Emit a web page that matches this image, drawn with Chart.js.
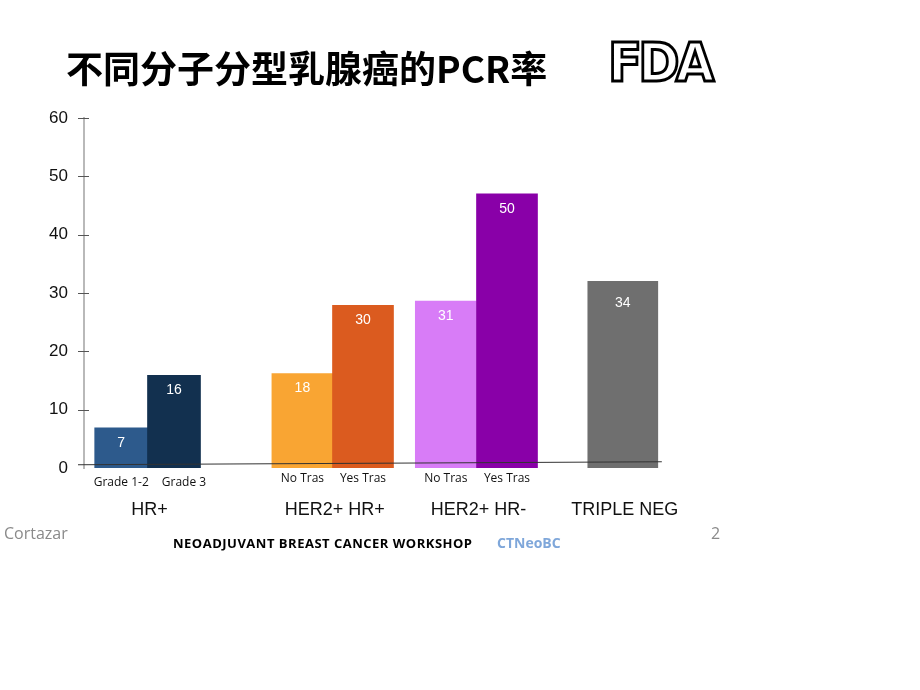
<!DOCTYPE html>
<html>
<head>
<meta charset="utf-8">
<script src="https://cdn.jsdelivr.net/npm/chart.js@4/dist/chart.umd.min.js"></script>
<style>
  body { margin: 0; background: #fff; }
  #slide { position: relative; width: 920px; height: 690px; overflow: hidden; }
  #chartBox { position: absolute; left: 0; top: 0; width: 920px; height: 690px; }
  .txt { position: absolute; white-space: nowrap; }
  #title { left: 66px; top: 40px; font: bold 37px "Noto Sans CJK SC", sans-serif; color: #000; }
  #fda { left: 608px; top: 32px; font: bold 53px "DejaVu Sans", sans-serif; color: #fff; -webkit-text-stroke: 3px #000; letter-spacing: -4px; transform: scaleX(0.94); transform-origin: left top; }
  #author { left: 4px; top: 522px; font: 16px "Open Sans", sans-serif; color: #8a8a8a; }
  #page { left: 711px; top: 522px; font: 16px "Open Sans", sans-serif; color: #8a8a8a; }
  #workshop { left: 173px; top: 534px; font: bold 13px "Open Sans", sans-serif; letter-spacing: 0.5px; color: #000; }
  #ctneo { left: 497px; top: 533px; font: bold 14px "Open Sans", sans-serif; color: #7fa7da; }
</style>
</head>
<body>
<div id="slide">
  <div id="chartBox"><canvas id="pcrChart"></canvas></div>
  <div class="txt" id="title">不同分子分型乳腺癌的PCR率</div>
  <div class="txt" id="fda">FDA</div>
  <div class="txt" id="author">Cortazar</div>
  <div class="txt" id="page">2</div>
  <div class="txt" id="workshop">NEOADJUVANT BREAST CANCER WORKSHOP</div>
  <div class="txt" id="ctneo">CTNeoBC</div>
</div>
<script>
// data dari grafik
const groupNames = ['HR+', 'HER2+ HR+', 'HER2+ HR-', 'TRIPLE NEG'];
const barLabels = ['Grade 1-2', 'Grade 3', 'No Tras', 'Yes Tras', 'No Tras', 'Yes Tras', ''];
const barGroup = [0, 0, 1, 1, 2, 2, 3];
const barValues = [6.9, 15.9, 16.2, 27.9, 28.6, 47, 32];
const valueLabels = ['7', '16', '18', '30', '31', '50', '34'];
const yTicks = [0, 10, 20, 30, 40, 50, 60];

// tata letak (posisi batang di sumbu x, lebar batang per grup, warna)
const barSlot = [0.62, 1.5, 3.64, 4.65, 6.03, 7.05, 8.98];
const groupThickness = [53, 61, 61, 70];
const barColors = ['#2d5a8c', '#12304f', '#f9a533', '#db5b1f', '#d87cf7', '#8900a8', '#6f6f6f'];

const datasets = groupNames.map(function(name, g) {
    const idx = barGroup.map((gg, i) => gg === g ? i : -1).filter(i => i >= 0);
    return {
        label: name,
        data: idx.map(i => ({ x: barSlot[i], y: barValues[i] })),
        backgroundColor: idx.map(i => barColors[i]),
        borderWidth: 0,
        barThickness: groupThickness[g],
        grouped: false,
        barIdx: idx
    };
});

const decor = {
    id: 'decor',
    beforeDatasetsDraw(chart) {
        const c = chart.ctx, y = chart.scales.y, a = chart.chartArea;
        c.save();
        c.strokeStyle = '#8a8a8a';
        c.lineWidth = 1.2;
        c.beginPath();
        c.moveTo(a.left, a.top - 1);
        c.lineTo(a.left, a.bottom + 1);
        c.stroke();
        c.strokeStyle = '#555';
        c.lineWidth = 1;
        yTicks.forEach(function(t) {
            if (t === 0) return;
            const py = Math.round(y.getPixelForValue(t)) + 0.5;
            c.beginPath();
            c.moveTo(a.left - 6, py);
            c.lineTo(a.left + 5, py);
            c.stroke();
        });
        c.restore();
    },
    afterDatasetsDraw(chart) {
        const c = chart.ctx, x = chart.scales.x, y = chart.scales.y;
        c.save();
        // garis dasar yang sedikit miring
        c.strokeStyle = '#333';
        c.lineWidth = 1.1;
        c.beginPath();
        c.moveTo(x.getPixelForValue(-0.1), y.getPixelForValue(0.55));
        c.lineTo(x.getPixelForValue(9.63), y.getPixelForValue(1.06));
        c.stroke();

        const centers = {};
        chart.data.datasets.forEach(function(ds, d) {
            const meta = chart.getDatasetMeta(d);
            meta.data.forEach(function(el, k) {
                const i = ds.barIdx[k];
                // angka di dalam batang
                c.fillStyle = '#fff';
                c.font = '14px "Liberation Sans", Arial, sans-serif';
                c.textAlign = 'center';
                c.textBaseline = 'middle';
                c.fillText(valueLabels[i], el.x, el.y + (i === 6 ? 22 : 15));
                // label sub-kategori
                c.fillStyle = '#111';
                c.font = '12px "Open Sans", sans-serif';
                c.fillText(barLabels[i], el.x + (i === 1 ? 10 : 0), y.getPixelForValue(0) + (d === 0 ? 15 : 11));
                (centers[d] = centers[d] || []).push(el.x);
            });
        });
        // nama grup
        c.fillStyle = '#111';
        c.font = '18px "Liberation Sans", Arial, sans-serif';
        groupNames.forEach(function(name, g) {
            const xs = centers[g];
            const cx = xs.reduce((s, v) => s + v, 0) / xs.length;
            c.fillText(name, cx + 2, y.getPixelForValue(0) + 42);
        });
        c.restore();
    }
};

const ctx = document.getElementById('pcrChart').getContext('2d');
const pcrChart = new Chart(ctx, {
    type: 'bar',
    data: { datasets: datasets },
    options: {
        responsive: true,
        maintainAspectRatio: false,
        animation: false,
        layout: { padding: { left: 0, top: 118, right: 212, bottom: 222 } },
        plugins: { legend: { display: false }, tooltip: { enabled: false } },
        scales: {
            x: {
                type: 'linear',
                min: 0,
                max: 10.4,
                offset: false,
                display: false
            },
            y: {
                min: yTicks[0],
                max: yTicks[yTicks.length - 1],
                afterFit: function(scale) { scale.width = 84; },
                afterBuildTicks: function(scale) { scale.ticks = yTicks.map(v => ({ value: v })); },
                grid: { display: false, drawTicks: false },
                border: { display: false },
                ticks: {
                    padding: 16,
                    color: '#111',
                    font: { family: '"Liberation Sans", Arial, sans-serif', size: 17 }
                }
            }
        }
    },
    plugins: [decor]
});
</script>
</body>
</html>
